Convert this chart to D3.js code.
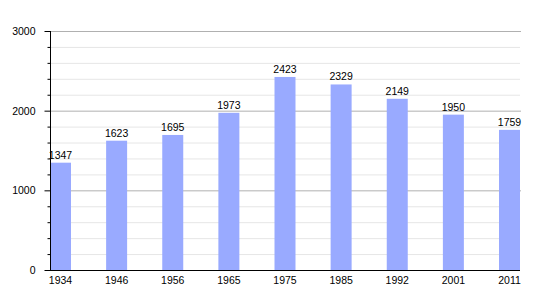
<!DOCTYPE html>
<html>
<head>
<meta charset="utf-8">
<script src="https://cdn.jsdelivr.net/npm/d3@7"></script>
<style>
  body { margin: 0; background: #fff; }
  text { font-family: "Liberation Sans", Arial, sans-serif; }
</style>
</head>
<body>
<div id="chart-area"></div>
<script>
// population by census year
var years = ["1934", "1946", "1956", "1965", "1975", "1985", "1992", "2001", "2011"];
var population = [1347, 1623, 1695, 1973, 2423, 2329, 2149, 1950, 1759];
var majorTicks = [0, 1000, 2000, 3000];
var minorTicks = d3.range(200, 3000, 200).filter(function(v) { return v % 1000 != 0; });

var width = 550, height = 300;
var margin = { left: 50, right: 30, top: 31, bottom: 30 };

var svg = d3.select("#chart-area")
    .append("svg")
    .attr("width", width)
    .attr("height", height);

var x = d3.scaleBand()
    .domain(years)
    .range([margin.left, width - margin.right])
    .paddingInner(0.626)
    .paddingOuter(0);

var y = d3.scaleLinear()
    .domain([0, 3000])
    .range([height - margin.bottom, margin.top]);

// minor grid
svg.append("g")
  .selectAll("line")
  .data(minorTicks)
  .enter().append("line")
    .attr("x1", margin.left)
    .attr("x2", width - margin.right)
    .attr("y1", function(d) { return y(d) + 0.5; })
    .attr("y2", function(d) { return y(d) + 0.5; })
    .attr("stroke", "#e6e6e6");

// major grid
svg.append("g")
  .selectAll("line")
  .data(majorTicks.slice(1))
  .enter().append("line")
    .attr("x1", margin.left)
    .attr("x2", width - margin.right + 1)
    .attr("y1", function(d) { return y(d) + 0.5; })
    .attr("y2", function(d) { return y(d) + 0.5; })
    .attr("stroke", "#b0b0b0");

svg.append("g")
  .selectAll("rect")
  .data(population)
  .enter().append("rect")
    .attr("x", function(d, i) { return x(years[i]); })
    .attr("width", x.bandwidth())
    .attr("y", function(d) { return y(d); })
    .attr("height", function(d) { return y(0) - y(d); })
    .attr("fill", "#99aaff");

svg.append("g")
  .selectAll("text")
  .data(population)
  .enter().append("text")
    .attr("x", function(d, i) { return x(years[i]) + x.bandwidth() / 2; })
    .attr("y", function(d) { return y(d) - 4; })
    .attr("text-anchor", "middle")
    .attr("font-size", 10.5)
    .attr("fill", "#000")
    .text(function(d) { return d; });

// y axis with minor ticks
var yAxis = svg.append("g")
    .attr("transform", "translate(" + (margin.left + 0.5) + ",0)")
    .call(d3.axisLeft(y).tickValues(majorTicks).tickFormat(d3.format("d")).tickSize(6).tickPadding(9))
    .call(function(g) { g.select(".domain").remove(); })
    .call(function(g) { g.selectAll("text").attr("font-size", 10.5).attr("font-family", "Liberation Sans, Arial, sans-serif"); });

yAxis.selectAll(".minor")
  .data(minorTicks)
  .enter().append("line")
    .attr("class", "minor")
    .attr("x1", -3)
    .attr("x2", 0)
    .attr("y1", function(d) { return y(d) + 0.5; })
    .attr("y2", function(d) { return y(d) + 0.5; })
    .attr("stroke", "#000");

yAxis.append("line")
    .attr("y1", y(3000))
    .attr("y2", y(0) + 1)
    .attr("stroke", "#000");

// x axis
svg.append("g")
    .attr("transform", "translate(0," + (y(0) + 0.5) + ")")
    .call(d3.axisBottom(x).tickSize(0).tickPadding(6))
    .call(function(g) {
      g.select(".domain").attr("d", "M" + margin.left + ",0H" + (width - margin.right));
      g.selectAll("text").attr("font-size", 10.5).attr("font-family", "Liberation Sans, Arial, sans-serif");
    });
</script>
</body>
</html>
